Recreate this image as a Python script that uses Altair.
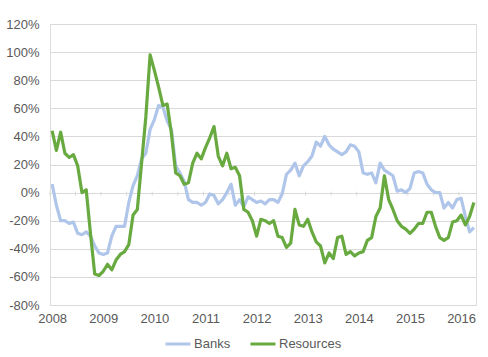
import altair as alt
import pandas as pd

# Monthly values, Jan 2008 .. Apr 2016 (percent, year-on-year)
banks = [6, -9, -20, -20, -22, -21, -29, -30, -28, -31,
         -38, -43, -44, -43, -31, -24, -24, -24, -7, 5,
         12, 24, 28, 45, 52, 62, 61, 51, 45, 19,
         14, 8, -5, -7, -7, -9, -7, -1, -2, -8,
         -5, 0, 6, -9, -5, -10, -3, -5, -7, -6,
         -8, -5, -5, -7, -1, 13, 16, 21, 12, 19,
         22, 26, 36, 33, 40, 34, 31, 29, 27, 29,
         34, 33, 29, 14, 13, 14, 7, 21, 16, 14,
         12, 1, 2, 0, 3, 14, 15, 14, 6, 2,
         0, 0, -11, -7, -11, -5, -4, -17, -28, -25]

resources = [44, 30, 43, 28, 25, 27, 19, 0, 2, -29,
             -58, -59, -56, -51, -55, -48, -44, -42, -37, -16,
             -12, 21, 54, 98, 87, 75, 62, 63, 42, 14,
             12, 6, 7, 21, 28, 24, 32, 39, 47, 26,
             19, 28, 17, 18, 12, -12, -14, -20, -31, -19,
             -20, -22, -20, -31, -32, -39, -36, -12, -23, -24,
             -19, -28, -35, -38, -50, -43, -47, -32, -31, -44,
             -42, -45, -43, -42, -34, -32, -17, -11, 12, -5,
             -12, -20, -24, -26, -29, -26, -22, -22, -14, -14,
             -24, -32, -34, -32, -21, -20, -16, -23, -17, -7]

year_labels = ["2008", "2009", "2010", "2011", "2012", "2013", "2014", "2015", "2016"]
y_ticks = [-80, -60, -40, -20, 0, 20, 40, 60, 80, 100, 120]
series_names = ["Banks", "Resources"]
series_colors = ["#AFC5EA", "#68AA40"]

n = len(banks)
rows = []
for i in range(n):
    rows.append({"m": i, "series": "Banks", "value": banks[i]})
for i in range(n):
    rows.append({"m": i, "series": "Resources", "value": resources[i]})
df = pd.DataFrame(rows)

tick_df = pd.DataFrame({"t": [k * 6 - 0.5 for k in range(17)]})

FONT = "Liberation Sans"
TXT = "#595959"
GRID = "#D9D9D9"

xscale = alt.Scale(domain=[-0.5, 99.5], nice=False, zero=False)
yscale = alt.Scale(domain=[-80, 120], nice=False, zero=False)

xaxis = alt.Axis(values=[k * 12 for k in range(len(year_labels))],
                 labelExpr="'' + (2008 + round(datum.value / 12))",
                 title=None, grid=False, domain=False, ticks=False,
                 labelOverlap=False, labelFlush=False,
                 labelPadding=7, labelFontSize=13, labelColor=TXT,
                 labelFont=FONT)
yaxis = alt.Axis(values=y_ticks, tickCount=11,
                 labelExpr="(datum.value < 0 ? '-' : '') + round(abs(datum.value)) + '%'",
                 title=None, grid=True, gridColor=GRID, gridWidth=1,
                 labelOverlap=False, labelFlush=False,
                 domain=False, ticks=False, labelPadding=11,
                 labelFontSize=13, labelColor=TXT, labelFont=FONT)

lines = alt.Chart(df).mark_line(strokeWidth=3.2, strokeJoin="round").encode(
    x=alt.X("m:Q", scale=xscale, axis=xaxis),
    y=alt.Y("value:Q", scale=yscale, axis=yaxis),
    color=alt.Color("series:N",
                    scale=alt.Scale(domain=series_names, range=series_colors),
                    legend=alt.Legend(title=None, orient="none", direction="horizontal",
                                      legendX=114, legendY=306,
                                      symbolType="stroke", symbolSize=625,
                                      symbolStrokeWidth=3, labelOffset=2,
                                      columnPadding=13, labelFontSize=13,
                                      labelColor=TXT, labelFont=FONT)),
    order=alt.Order("m:Q"),
)

ticks = alt.Chart(tick_df).mark_rule(color=GRID, strokeWidth=1).encode(
    x=alt.X("t:Q", scale=xscale, axis=xaxis),
    y=alt.YDatum(0.7, scale=yscale, axis=yaxis),
    y2=alt.Y2Datum(-2.2),
)

chart = alt.layer(ticks, lines).properties(
    width=426, height=281,
    padding={"left": 50, "top": 24, "right": 12, "bottom": 52},
    autosize=alt.AutoSizeParams(type="none"),
).configure_view(stroke=None).configure(background="white")

chart.save("out.html", embed_options={"renderer": "svg", "actions": False})
